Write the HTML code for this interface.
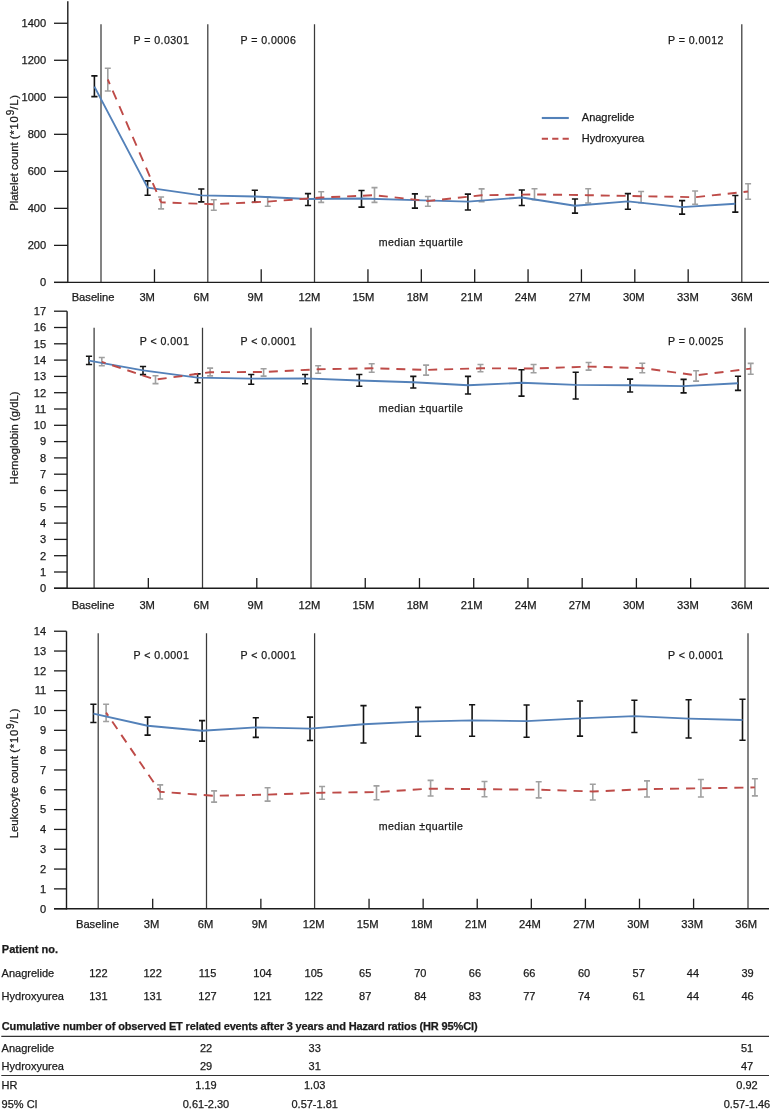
<!DOCTYPE html><html><head><meta charset="utf-8"><style>
html,body{margin:0;padding:0;background:#fff;width:771px;height:1109px;overflow:hidden}
svg{display:block;font-family:"Liberation Sans",sans-serif;will-change:transform}
text{stroke:#1a1a1a;stroke-width:0.25px}
.t{font-size:11px;fill:#1a1a1a}
.yl{font-size:11.1px;fill:#1a1a1a}
.xl{font-size:11.2px;fill:#1a1a1a}
.pv{font-size:10.6px;fill:#1a1a1a;letter-spacing:0.45px}
.md{font-size:10.6px;fill:#1a1a1a;letter-spacing:0.4px}
.ti{font-size:11.3px;fill:#1a1a1a}
.b{font-weight:bold}
</style></head><body>
<svg width="771" height="1109" viewBox="0 0 771 1109">
<line x1="101" y1="24.2" x2="101" y2="282.4" stroke="#3a3a3a" stroke-width="1.25"/>
<line x1="207.8" y1="24.2" x2="207.8" y2="282.4" stroke="#3a3a3a" stroke-width="1.25"/>
<line x1="314.5" y1="24.2" x2="314.5" y2="282.4" stroke="#3a3a3a" stroke-width="1.25"/>
<line x1="741.8" y1="24.2" x2="741.8" y2="282.4" stroke="#3a3a3a" stroke-width="1.25"/>
<line x1="154.47" y1="269.3" x2="154.47" y2="282.4" stroke="#1c1c1c" stroke-width="1.3"/>
<line x1="261.21" y1="269.3" x2="261.21" y2="282.4" stroke="#1c1c1c" stroke-width="1.3"/>
<line x1="367.95" y1="269.3" x2="367.95" y2="282.4" stroke="#1c1c1c" stroke-width="1.3"/>
<line x1="421.32" y1="269.3" x2="421.32" y2="282.4" stroke="#1c1c1c" stroke-width="1.3"/>
<line x1="474.69" y1="269.3" x2="474.69" y2="282.4" stroke="#1c1c1c" stroke-width="1.3"/>
<line x1="528.06" y1="269.3" x2="528.06" y2="282.4" stroke="#1c1c1c" stroke-width="1.3"/>
<line x1="581.43" y1="269.3" x2="581.43" y2="282.4" stroke="#1c1c1c" stroke-width="1.3"/>
<line x1="634.8" y1="269.3" x2="634.8" y2="282.4" stroke="#1c1c1c" stroke-width="1.3"/>
<line x1="688.17" y1="269.3" x2="688.17" y2="282.4" stroke="#1c1c1c" stroke-width="1.3"/>
<line x1="67.8" y1="1.3" x2="67.8" y2="283.1" stroke="#1c1c1c" stroke-width="1.4"/>
<line x1="54" y1="282.4" x2="769" y2="282.4" stroke="#1c1c1c" stroke-width="1.4"/>
<line x1="54" y1="282.4" x2="67.8" y2="282.4" stroke="#1c1c1c" stroke-width="1.3"/>
<text class="yl" x="46.2" y="286.2" text-anchor="end">0</text>
<line x1="54" y1="245.38" x2="67.8" y2="245.38" stroke="#1c1c1c" stroke-width="1.3"/>
<text class="yl" x="46.2" y="249.18" text-anchor="end">200</text>
<line x1="54" y1="208.36" x2="67.8" y2="208.36" stroke="#1c1c1c" stroke-width="1.3"/>
<text class="yl" x="46.2" y="212.16" text-anchor="end">400</text>
<line x1="54" y1="171.34" x2="67.8" y2="171.34" stroke="#1c1c1c" stroke-width="1.3"/>
<text class="yl" x="46.2" y="175.14" text-anchor="end">600</text>
<line x1="54" y1="134.32" x2="67.8" y2="134.32" stroke="#1c1c1c" stroke-width="1.3"/>
<text class="yl" x="46.2" y="138.12" text-anchor="end">800</text>
<line x1="54" y1="97.3" x2="67.8" y2="97.3" stroke="#1c1c1c" stroke-width="1.3"/>
<text class="yl" x="46.2" y="101.1" text-anchor="end">1000</text>
<line x1="54" y1="60.28" x2="67.8" y2="60.28" stroke="#1c1c1c" stroke-width="1.3"/>
<text class="yl" x="46.2" y="64.08" text-anchor="end">1200</text>
<line x1="54" y1="23.26" x2="67.8" y2="23.26" stroke="#1c1c1c" stroke-width="1.3"/>
<text class="yl" x="46.2" y="27.06" text-anchor="end">1400</text>
<text class="xl" x="93.1" y="301.3" text-anchor="middle">Baseline</text>
<text class="xl" x="147.17" y="301.3" text-anchor="middle">3M</text>
<text class="xl" x="201.24" y="301.3" text-anchor="middle">6M</text>
<text class="xl" x="255.31" y="301.3" text-anchor="middle">9M</text>
<text class="xl" x="309.38" y="301.3" text-anchor="middle">12M</text>
<text class="xl" x="363.45" y="301.3" text-anchor="middle">15M</text>
<text class="xl" x="417.52" y="301.3" text-anchor="middle">18M</text>
<text class="xl" x="471.59" y="301.3" text-anchor="middle">21M</text>
<text class="xl" x="525.66" y="301.3" text-anchor="middle">24M</text>
<text class="xl" x="579.73" y="301.3" text-anchor="middle">27M</text>
<text class="xl" x="633.8" y="301.3" text-anchor="middle">30M</text>
<text class="xl" x="687.87" y="301.3" text-anchor="middle">33M</text>
<text class="xl" x="741.94" y="301.3" text-anchor="middle">36M</text>
<text class="pv" x="189.3" y="43.7" text-anchor="end">P = 0.0301</text>
<text class="pv" x="296.3" y="43.7" text-anchor="end">P = 0.0006</text>
<text class="pv" x="668" y="43.7" text-anchor="start">P = 0.0012</text>
<text class="md" x="378.7" y="245.5">median ±quartile</text>
<text class="ti" transform="translate(17.6 152.5) rotate(-90)" text-anchor="middle">Platelet count <tspan style="letter-spacing:0.8px">(*10</tspan><tspan font-size="10" dy="-3.6">9</tspan><tspan dy="3.6" style="letter-spacing:0.8px">/L)</tspan></text>
<path d="M94.4 75.9V96.6M91.3 75.9h6.2M91.3 96.6h6.2" stroke="#141414" stroke-width="1.6" fill="none"/>
<path d="M147.6 180.9V195.2M144.5 180.9h6.2M144.5 195.2h6.2" stroke="#141414" stroke-width="1.6" fill="none"/>
<path d="M201.3 189V201.9M198.2 189h6.2M198.2 201.9h6.2" stroke="#141414" stroke-width="1.6" fill="none"/>
<path d="M254.8 190.2V202.2M251.7 190.2h6.2M251.7 202.2h6.2" stroke="#141414" stroke-width="1.6" fill="none"/>
<path d="M308 193.6V205.5M304.9 193.6h6.2M304.9 205.5h6.2" stroke="#141414" stroke-width="1.6" fill="none"/>
<path d="M361.5 190.5V207.1M358.4 190.5h6.2M358.4 207.1h6.2" stroke="#141414" stroke-width="1.6" fill="none"/>
<path d="M414.9 193.9V208.1M411.8 193.9h6.2M411.8 208.1h6.2" stroke="#141414" stroke-width="1.6" fill="none"/>
<path d="M467.9 194.1V210M464.8 194.1h6.2M464.8 210h6.2" stroke="#141414" stroke-width="1.6" fill="none"/>
<path d="M521.8 190V205.5M518.7 190h6.2M518.7 205.5h6.2" stroke="#141414" stroke-width="1.6" fill="none"/>
<path d="M575 199V213.1M571.9 199h6.2M571.9 213.1h6.2" stroke="#141414" stroke-width="1.6" fill="none"/>
<path d="M627.9 193.6V209.2M624.8 193.6h6.2M624.8 209.2h6.2" stroke="#141414" stroke-width="1.6" fill="none"/>
<path d="M682.1 200.6V214.1M679 200.6h6.2M679 214.1h6.2" stroke="#141414" stroke-width="1.6" fill="none"/>
<path d="M735.3 195.5V212.1M732.2 195.5h6.2M732.2 212.1h6.2" stroke="#141414" stroke-width="1.6" fill="none"/>
<path d="M107.8 68.2V91M104.8 68.2h6M104.8 91h6" stroke="#a0a0a0" stroke-width="1.6" fill="none"/>
<path d="M161.1 197V208.9M158.1 197h6M158.1 208.9h6" stroke="#a0a0a0" stroke-width="1.6" fill="none"/>
<path d="M213.8 199.8V210.2M210.8 199.8h6M210.8 210.2h6" stroke="#a0a0a0" stroke-width="1.6" fill="none"/>
<path d="M267.7 196.7V206.3M264.7 196.7h6M264.7 206.3h6" stroke="#a0a0a0" stroke-width="1.6" fill="none"/>
<path d="M321.2 191.8V202.4M318.2 191.8h6M318.2 202.4h6" stroke="#a0a0a0" stroke-width="1.6" fill="none"/>
<path d="M374.5 187.6V202.4M371.5 187.6h6M371.5 202.4h6" stroke="#a0a0a0" stroke-width="1.6" fill="none"/>
<path d="M427.9 196.5V206.3M424.9 196.5h6M424.9 206.3h6" stroke="#a0a0a0" stroke-width="1.6" fill="none"/>
<path d="M481.6 188.9V201.6M478.6 188.9h6M478.6 201.6h6" stroke="#a0a0a0" stroke-width="1.6" fill="none"/>
<path d="M534.5 188.7V199.8M531.5 188.7h6M531.5 199.8h6" stroke="#a0a0a0" stroke-width="1.6" fill="none"/>
<path d="M588.2 188.7V203M585.2 188.7h6M585.2 203h6" stroke="#a0a0a0" stroke-width="1.6" fill="none"/>
<path d="M641.1 191.5V202.7M638.1 191.5h6M638.1 202.7h6" stroke="#a0a0a0" stroke-width="1.6" fill="none"/>
<path d="M695.1 191V204.2M692.1 191h6M692.1 204.2h6" stroke="#a0a0a0" stroke-width="1.6" fill="none"/>
<path d="M748.1 183.7V199.2M745.1 183.7h6M745.1 199.2h6" stroke="#a0a0a0" stroke-width="1.6" fill="none"/>
<polyline points="94.4,86.6 147.6,187.6 201.3,195.4 254.8,196.5 308,199 361.5,198.5 414.9,200.1 467.9,201.6 521.8,197.5 575,205.8 627.9,201.4 682.1,207.1 735.3,203.7" fill="none" stroke="#5381b9" stroke-width="1.9" stroke-linejoin="round"/>
<polyline points="107.8,79.5 161.1,202.4" fill="none" stroke="#be4b48" stroke-width="1.9" stroke-dasharray="9.6 7.2" stroke-dashoffset="4.64"/>
<polyline points="161.1,202.4 213.8,204.2 267.7,201.6 321.2,197.5 374.5,195.2 427.9,201.1 481.6,195.2 534.5,194.4 588.2,195.2 641.1,196.2 695.1,197.2 748.1,191.5" fill="none" stroke="#be4b48" stroke-width="1.9" stroke-dasharray="9 6.894" stroke-dashoffset="4.43"/>
<line x1="94.1" y1="327.7" x2="94.1" y2="588.3" stroke="#3a3a3a" stroke-width="1.25"/>
<line x1="202.5" y1="327.7" x2="202.5" y2="588.3" stroke="#3a3a3a" stroke-width="1.25"/>
<line x1="311" y1="327.7" x2="311" y2="588.3" stroke="#3a3a3a" stroke-width="1.25"/>
<line x1="745" y1="327.7" x2="745" y2="588.3" stroke="#3a3a3a" stroke-width="1.25"/>
<line x1="148.33" y1="578.1" x2="148.33" y2="588.3" stroke="#1c1c1c" stroke-width="1.3"/>
<line x1="256.79" y1="578.1" x2="256.79" y2="588.3" stroke="#1c1c1c" stroke-width="1.3"/>
<line x1="365.25" y1="578.1" x2="365.25" y2="588.3" stroke="#1c1c1c" stroke-width="1.3"/>
<line x1="419.48" y1="578.1" x2="419.48" y2="588.3" stroke="#1c1c1c" stroke-width="1.3"/>
<line x1="473.71" y1="578.1" x2="473.71" y2="588.3" stroke="#1c1c1c" stroke-width="1.3"/>
<line x1="527.94" y1="578.1" x2="527.94" y2="588.3" stroke="#1c1c1c" stroke-width="1.3"/>
<line x1="582.17" y1="578.1" x2="582.17" y2="588.3" stroke="#1c1c1c" stroke-width="1.3"/>
<line x1="636.4" y1="578.1" x2="636.4" y2="588.3" stroke="#1c1c1c" stroke-width="1.3"/>
<line x1="690.63" y1="578.1" x2="690.63" y2="588.3" stroke="#1c1c1c" stroke-width="1.3"/>
<line x1="67.1" y1="311.2" x2="67.1" y2="589" stroke="#1c1c1c" stroke-width="1.4"/>
<line x1="54" y1="588.3" x2="769" y2="588.3" stroke="#1c1c1c" stroke-width="1.4"/>
<line x1="54" y1="588.3" x2="67.1" y2="588.3" stroke="#1c1c1c" stroke-width="1.3"/>
<text class="yl" x="46.2" y="592.1" text-anchor="end">0</text>
<line x1="54" y1="572" x2="67.1" y2="572" stroke="#1c1c1c" stroke-width="1.3"/>
<text class="yl" x="46.2" y="575.8" text-anchor="end">1</text>
<line x1="54" y1="555.7" x2="67.1" y2="555.7" stroke="#1c1c1c" stroke-width="1.3"/>
<text class="yl" x="46.2" y="559.5" text-anchor="end">2</text>
<line x1="54" y1="539.4" x2="67.1" y2="539.4" stroke="#1c1c1c" stroke-width="1.3"/>
<text class="yl" x="46.2" y="543.2" text-anchor="end">3</text>
<line x1="54" y1="523.1" x2="67.1" y2="523.1" stroke="#1c1c1c" stroke-width="1.3"/>
<text class="yl" x="46.2" y="526.9" text-anchor="end">4</text>
<line x1="54" y1="506.8" x2="67.1" y2="506.8" stroke="#1c1c1c" stroke-width="1.3"/>
<text class="yl" x="46.2" y="510.6" text-anchor="end">5</text>
<line x1="54" y1="490.5" x2="67.1" y2="490.5" stroke="#1c1c1c" stroke-width="1.3"/>
<text class="yl" x="46.2" y="494.3" text-anchor="end">6</text>
<line x1="54" y1="474.2" x2="67.1" y2="474.2" stroke="#1c1c1c" stroke-width="1.3"/>
<text class="yl" x="46.2" y="478" text-anchor="end">7</text>
<line x1="54" y1="457.9" x2="67.1" y2="457.9" stroke="#1c1c1c" stroke-width="1.3"/>
<text class="yl" x="46.2" y="461.7" text-anchor="end">8</text>
<line x1="54" y1="441.6" x2="67.1" y2="441.6" stroke="#1c1c1c" stroke-width="1.3"/>
<text class="yl" x="46.2" y="445.4" text-anchor="end">9</text>
<line x1="54" y1="425.3" x2="67.1" y2="425.3" stroke="#1c1c1c" stroke-width="1.3"/>
<text class="yl" x="46.2" y="429.1" text-anchor="end">10</text>
<line x1="54" y1="409" x2="67.1" y2="409" stroke="#1c1c1c" stroke-width="1.3"/>
<text class="yl" x="46.2" y="412.8" text-anchor="end">11</text>
<line x1="54" y1="392.7" x2="67.1" y2="392.7" stroke="#1c1c1c" stroke-width="1.3"/>
<text class="yl" x="46.2" y="396.5" text-anchor="end">12</text>
<line x1="54" y1="376.4" x2="67.1" y2="376.4" stroke="#1c1c1c" stroke-width="1.3"/>
<text class="yl" x="46.2" y="380.2" text-anchor="end">13</text>
<line x1="54" y1="360.1" x2="67.1" y2="360.1" stroke="#1c1c1c" stroke-width="1.3"/>
<text class="yl" x="46.2" y="363.9" text-anchor="end">14</text>
<line x1="54" y1="343.8" x2="67.1" y2="343.8" stroke="#1c1c1c" stroke-width="1.3"/>
<text class="yl" x="46.2" y="347.6" text-anchor="end">15</text>
<line x1="54" y1="327.5" x2="67.1" y2="327.5" stroke="#1c1c1c" stroke-width="1.3"/>
<text class="yl" x="46.2" y="331.3" text-anchor="end">16</text>
<line x1="54" y1="311.2" x2="67.1" y2="311.2" stroke="#1c1c1c" stroke-width="1.3"/>
<text class="yl" x="46.2" y="315" text-anchor="end">17</text>
<text class="xl" x="93.1" y="608.6" text-anchor="middle">Baseline</text>
<text class="xl" x="147.17" y="608.6" text-anchor="middle">3M</text>
<text class="xl" x="201.24" y="608.6" text-anchor="middle">6M</text>
<text class="xl" x="255.31" y="608.6" text-anchor="middle">9M</text>
<text class="xl" x="309.38" y="608.6" text-anchor="middle">12M</text>
<text class="xl" x="363.45" y="608.6" text-anchor="middle">15M</text>
<text class="xl" x="417.52" y="608.6" text-anchor="middle">18M</text>
<text class="xl" x="471.59" y="608.6" text-anchor="middle">21M</text>
<text class="xl" x="525.66" y="608.6" text-anchor="middle">24M</text>
<text class="xl" x="579.73" y="608.6" text-anchor="middle">27M</text>
<text class="xl" x="633.8" y="608.6" text-anchor="middle">30M</text>
<text class="xl" x="687.87" y="608.6" text-anchor="middle">33M</text>
<text class="xl" x="741.94" y="608.6" text-anchor="middle">36M</text>
<text class="pv" x="189.3" y="345" text-anchor="end">P &lt; 0.001</text>
<text class="pv" x="296.3" y="345" text-anchor="end">P &lt; 0.0001</text>
<text class="pv" x="668" y="344.5" text-anchor="start">P = 0.0025</text>
<text class="md" x="378.7" y="412.1">median ±quartile</text>
<text class="ti" transform="translate(17.6 438) rotate(-90)" text-anchor="middle">Hemoglobin (g/dL)</text>
<path d="M89 356.2V364.5M85.9 356.2h6.2M85.9 364.5h6.2" stroke="#141414" stroke-width="1.6" fill="none"/>
<path d="M143 366.5V374.6M139.9 366.5h6.2M139.9 374.6h6.2" stroke="#141414" stroke-width="1.6" fill="none"/>
<path d="M197.6 373.9V382.8M194.5 373.9h6.2M194.5 382.8h6.2" stroke="#141414" stroke-width="1.6" fill="none"/>
<path d="M251.2 374.5V384.2M248.1 374.5h6.2M248.1 384.2h6.2" stroke="#141414" stroke-width="1.6" fill="none"/>
<path d="M305.1 374.5V383.8M302 374.5h6.2M302 383.8h6.2" stroke="#141414" stroke-width="1.6" fill="none"/>
<path d="M359.3 374.5V386.3M356.2 374.5h6.2M356.2 386.3h6.2" stroke="#141414" stroke-width="1.6" fill="none"/>
<path d="M413.3 376.4V388M410.2 376.4h6.2M410.2 388h6.2" stroke="#141414" stroke-width="1.6" fill="none"/>
<path d="M468 376.4V394M464.9 376.4h6.2M464.9 394h6.2" stroke="#141414" stroke-width="1.6" fill="none"/>
<path d="M521.5 369.7V396.1M518.4 369.7h6.2M518.4 396.1h6.2" stroke="#141414" stroke-width="1.6" fill="none"/>
<path d="M575.7 372.2V399M572.6 372.2h6.2M572.6 399h6.2" stroke="#141414" stroke-width="1.6" fill="none"/>
<path d="M630.1 379.1V392M627 379.1h6.2M627 392h6.2" stroke="#141414" stroke-width="1.6" fill="none"/>
<path d="M683.6 379.4V392.9M680.5 379.4h6.2M680.5 392.9h6.2" stroke="#141414" stroke-width="1.6" fill="none"/>
<path d="M738 376.3V390.4M734.9 376.3h6.2M734.9 390.4h6.2" stroke="#141414" stroke-width="1.6" fill="none"/>
<path d="M101.8 357.5V365.7M98.8 357.5h6M98.8 365.7h6" stroke="#a0a0a0" stroke-width="1.6" fill="none"/>
<path d="M155.5 375.7V383.6M152.5 375.7h6M152.5 383.6h6" stroke="#a0a0a0" stroke-width="1.6" fill="none"/>
<path d="M210.1 368.1V375.9M207.1 368.1h6M207.1 375.9h6" stroke="#a0a0a0" stroke-width="1.6" fill="none"/>
<path d="M263.6 368.7V376.1M260.6 368.7h6M260.6 376.1h6" stroke="#a0a0a0" stroke-width="1.6" fill="none"/>
<path d="M318.2 365.8V373.2M315.2 365.8h6M315.2 373.2h6" stroke="#a0a0a0" stroke-width="1.6" fill="none"/>
<path d="M371.7 363.7V372.2M368.7 363.7h6M368.7 372.2h6" stroke="#a0a0a0" stroke-width="1.6" fill="none"/>
<path d="M426.1 365.1V375.1M423.1 365.1h6M423.1 375.1h6" stroke="#a0a0a0" stroke-width="1.6" fill="none"/>
<path d="M480.5 364.5V371.8M477.5 364.5h6M477.5 371.8h6" stroke="#a0a0a0" stroke-width="1.6" fill="none"/>
<path d="M533.6 364.5V372.8M530.6 364.5h6M530.6 372.8h6" stroke="#a0a0a0" stroke-width="1.6" fill="none"/>
<path d="M588.6 362.5V370.1M585.6 362.5h6M585.6 370.1h6" stroke="#a0a0a0" stroke-width="1.6" fill="none"/>
<path d="M642.3 363.3V372.8M639.3 363.3h6M639.3 372.8h6" stroke="#a0a0a0" stroke-width="1.6" fill="none"/>
<path d="M696.1 370.7V381.1M693.1 370.7h6M693.1 381.1h6" stroke="#a0a0a0" stroke-width="1.6" fill="none"/>
<path d="M750.7 363.4V374.2M747.7 363.4h6M747.7 374.2h6" stroke="#a0a0a0" stroke-width="1.6" fill="none"/>
<polyline points="89,360.6 143,370.4 197.6,377.6 251.2,378.6 305.1,378.4 359.3,380.5 413.3,382.2 468,385.3 521.5,382.8 575.7,384.9 630.1,385.2 683.6,386.1 738,383.2" fill="none" stroke="#5381b9" stroke-width="1.9" stroke-linejoin="round"/>
<polyline points="101.8,361.8 155.5,379.6 210.1,372.2 263.6,372 318.2,369.3 371.7,368.3 426.1,369.9 480.5,368.3 533.6,368.5 588.6,366.6 642.3,368.1 696.1,375.3 750.7,368.6" fill="none" stroke="#be4b48" stroke-width="1.9" stroke-dasharray="9 6.947" stroke-dashoffset="5.0"/>
<line x1="98.2" y1="633.2" x2="98.2" y2="908.7" stroke="#3a3a3a" stroke-width="1.25"/>
<line x1="206.5" y1="633.2" x2="206.5" y2="908.7" stroke="#3a3a3a" stroke-width="1.25"/>
<line x1="314.6" y1="633.2" x2="314.6" y2="908.7" stroke="#3a3a3a" stroke-width="1.25"/>
<line x1="748" y1="633.2" x2="748" y2="908.7" stroke="#3a3a3a" stroke-width="1.25"/>
<line x1="152.69" y1="898.7" x2="152.69" y2="908.7" stroke="#1c1c1c" stroke-width="1.3"/>
<line x1="260.87" y1="898.7" x2="260.87" y2="908.7" stroke="#1c1c1c" stroke-width="1.3"/>
<line x1="369.05" y1="898.7" x2="369.05" y2="908.7" stroke="#1c1c1c" stroke-width="1.3"/>
<line x1="423.14" y1="898.7" x2="423.14" y2="908.7" stroke="#1c1c1c" stroke-width="1.3"/>
<line x1="477.23" y1="898.7" x2="477.23" y2="908.7" stroke="#1c1c1c" stroke-width="1.3"/>
<line x1="531.32" y1="898.7" x2="531.32" y2="908.7" stroke="#1c1c1c" stroke-width="1.3"/>
<line x1="585.41" y1="898.7" x2="585.41" y2="908.7" stroke="#1c1c1c" stroke-width="1.3"/>
<line x1="639.5" y1="898.7" x2="639.5" y2="908.7" stroke="#1c1c1c" stroke-width="1.3"/>
<line x1="693.59" y1="898.7" x2="693.59" y2="908.7" stroke="#1c1c1c" stroke-width="1.3"/>
<line x1="66.5" y1="631.2" x2="66.5" y2="909.4" stroke="#1c1c1c" stroke-width="1.4"/>
<line x1="54" y1="908.7" x2="769" y2="908.7" stroke="#1c1c1c" stroke-width="1.4"/>
<line x1="54" y1="908.7" x2="66.5" y2="908.7" stroke="#1c1c1c" stroke-width="1.3"/>
<text class="yl" x="46.2" y="912.5" text-anchor="end">0</text>
<line x1="54" y1="888.88" x2="66.5" y2="888.88" stroke="#1c1c1c" stroke-width="1.3"/>
<text class="yl" x="46.2" y="892.68" text-anchor="end">1</text>
<line x1="54" y1="869.06" x2="66.5" y2="869.06" stroke="#1c1c1c" stroke-width="1.3"/>
<text class="yl" x="46.2" y="872.86" text-anchor="end">2</text>
<line x1="54" y1="849.24" x2="66.5" y2="849.24" stroke="#1c1c1c" stroke-width="1.3"/>
<text class="yl" x="46.2" y="853.04" text-anchor="end">3</text>
<line x1="54" y1="829.42" x2="66.5" y2="829.42" stroke="#1c1c1c" stroke-width="1.3"/>
<text class="yl" x="46.2" y="833.22" text-anchor="end">4</text>
<line x1="54" y1="809.6" x2="66.5" y2="809.6" stroke="#1c1c1c" stroke-width="1.3"/>
<text class="yl" x="46.2" y="813.4" text-anchor="end">5</text>
<line x1="54" y1="789.78" x2="66.5" y2="789.78" stroke="#1c1c1c" stroke-width="1.3"/>
<text class="yl" x="46.2" y="793.58" text-anchor="end">6</text>
<line x1="54" y1="769.96" x2="66.5" y2="769.96" stroke="#1c1c1c" stroke-width="1.3"/>
<text class="yl" x="46.2" y="773.76" text-anchor="end">7</text>
<line x1="54" y1="750.14" x2="66.5" y2="750.14" stroke="#1c1c1c" stroke-width="1.3"/>
<text class="yl" x="46.2" y="753.94" text-anchor="end">8</text>
<line x1="54" y1="730.32" x2="66.5" y2="730.32" stroke="#1c1c1c" stroke-width="1.3"/>
<text class="yl" x="46.2" y="734.12" text-anchor="end">9</text>
<line x1="54" y1="710.5" x2="66.5" y2="710.5" stroke="#1c1c1c" stroke-width="1.3"/>
<text class="yl" x="46.2" y="714.3" text-anchor="end">10</text>
<line x1="54" y1="690.68" x2="66.5" y2="690.68" stroke="#1c1c1c" stroke-width="1.3"/>
<text class="yl" x="46.2" y="694.48" text-anchor="end">11</text>
<line x1="54" y1="670.86" x2="66.5" y2="670.86" stroke="#1c1c1c" stroke-width="1.3"/>
<text class="yl" x="46.2" y="674.66" text-anchor="end">12</text>
<line x1="54" y1="651.04" x2="66.5" y2="651.04" stroke="#1c1c1c" stroke-width="1.3"/>
<text class="yl" x="46.2" y="654.84" text-anchor="end">13</text>
<line x1="54" y1="631.22" x2="66.5" y2="631.22" stroke="#1c1c1c" stroke-width="1.3"/>
<text class="yl" x="46.2" y="635.02" text-anchor="end">14</text>
<text class="xl" x="97.4" y="927.6" text-anchor="middle">Baseline</text>
<text class="xl" x="151.47" y="927.6" text-anchor="middle">3M</text>
<text class="xl" x="205.54" y="927.6" text-anchor="middle">6M</text>
<text class="xl" x="259.61" y="927.6" text-anchor="middle">9M</text>
<text class="xl" x="313.68" y="927.6" text-anchor="middle">12M</text>
<text class="xl" x="367.75" y="927.6" text-anchor="middle">15M</text>
<text class="xl" x="421.82" y="927.6" text-anchor="middle">18M</text>
<text class="xl" x="475.89" y="927.6" text-anchor="middle">21M</text>
<text class="xl" x="529.96" y="927.6" text-anchor="middle">24M</text>
<text class="xl" x="584.03" y="927.6" text-anchor="middle">27M</text>
<text class="xl" x="638.1" y="927.6" text-anchor="middle">30M</text>
<text class="xl" x="692.17" y="927.6" text-anchor="middle">33M</text>
<text class="xl" x="746.24" y="927.6" text-anchor="middle">36M</text>
<text class="pv" x="189.3" y="659.4" text-anchor="end">P &lt; 0.0001</text>
<text class="pv" x="296.3" y="659.4" text-anchor="end">P &lt; 0.0001</text>
<text class="pv" x="668" y="658.7" text-anchor="start">P &lt; 0.0001</text>
<text class="md" x="378.7" y="829.8">median ±quartile</text>
<text class="ti" transform="translate(18 773) rotate(-90)" text-anchor="middle">Leukocyte count <tspan style="letter-spacing:0.8px">(*10</tspan><tspan font-size="10" dy="-3.6">9</tspan><tspan dy="3.6" style="letter-spacing:0.8px">/L)</tspan></text>
<path d="M93.4 704.3V722.5M90.3 704.3h6.2M90.3 722.5h6.2" stroke="#141414" stroke-width="1.6" fill="none"/>
<path d="M147.6 717.1V735.1M144.5 717.1h6.2M144.5 735.1h6.2" stroke="#141414" stroke-width="1.6" fill="none"/>
<path d="M202.1 720.6V741.1M199 720.6h6.2M199 741.1h6.2" stroke="#141414" stroke-width="1.6" fill="none"/>
<path d="M255.8 717.7V737.4M252.7 717.7h6.2M252.7 737.4h6.2" stroke="#141414" stroke-width="1.6" fill="none"/>
<path d="M310 717.1V740.5M306.9 717.1h6.2M306.9 740.5h6.2" stroke="#141414" stroke-width="1.6" fill="none"/>
<path d="M363.5 705.6V743M360.4 705.6h6.2M360.4 743h6.2" stroke="#141414" stroke-width="1.6" fill="none"/>
<path d="M418.1 707.4V736.2M415 707.4h6.2M415 736.2h6.2" stroke="#141414" stroke-width="1.6" fill="none"/>
<path d="M472.1 704.8V736.2M469 704.8h6.2M469 736.2h6.2" stroke="#141414" stroke-width="1.6" fill="none"/>
<path d="M526.6 705V737.2M523.5 705h6.2M523.5 737.2h6.2" stroke="#141414" stroke-width="1.6" fill="none"/>
<path d="M580 701V736.1M576.9 701h6.2M576.9 736.1h6.2" stroke="#141414" stroke-width="1.6" fill="none"/>
<path d="M634.4 700.3V732.5M631.3 700.3h6.2M631.3 732.5h6.2" stroke="#141414" stroke-width="1.6" fill="none"/>
<path d="M688.6 699.7V738M685.5 699.7h6.2M685.5 738h6.2" stroke="#141414" stroke-width="1.6" fill="none"/>
<path d="M742.5 699.2V740.2M739.4 699.2h6.2M739.4 740.2h6.2" stroke="#141414" stroke-width="1.6" fill="none"/>
<path d="M106.1 704.3V721.5M103.1 704.3h6M103.1 721.5h6" stroke="#a0a0a0" stroke-width="1.6" fill="none"/>
<path d="M160.2 784.9V799M157.2 784.9h6M157.2 799h6" stroke="#a0a0a0" stroke-width="1.6" fill="none"/>
<path d="M214.1 790.9V802.1M211.1 790.9h6M211.1 802.1h6" stroke="#a0a0a0" stroke-width="1.6" fill="none"/>
<path d="M267.6 787.7V801.1M264.6 787.7h6M264.6 801.1h6" stroke="#a0a0a0" stroke-width="1.6" fill="none"/>
<path d="M322.1 786.5V799.3M319.1 786.5h6M319.1 799.3h6" stroke="#a0a0a0" stroke-width="1.6" fill="none"/>
<path d="M376.5 785.9V799.7M373.5 785.9h6M373.5 799.7h6" stroke="#a0a0a0" stroke-width="1.6" fill="none"/>
<path d="M430.6 780.4V796M427.6 780.4h6M427.6 796h6" stroke="#a0a0a0" stroke-width="1.6" fill="none"/>
<path d="M484.5 781.5V796.8M481.5 781.5h6M481.5 796.8h6" stroke="#a0a0a0" stroke-width="1.6" fill="none"/>
<path d="M538.7 781.8V797.9M535.7 781.8h6M535.7 797.9h6" stroke="#a0a0a0" stroke-width="1.6" fill="none"/>
<path d="M592.8 784.2V800M589.8 784.2h6M589.8 800h6" stroke="#a0a0a0" stroke-width="1.6" fill="none"/>
<path d="M647 780.9V797M644 780.9h6M644 797h6" stroke="#a0a0a0" stroke-width="1.6" fill="none"/>
<path d="M700.9 779.5V797M697.9 779.5h6M697.9 797h6" stroke="#a0a0a0" stroke-width="1.6" fill="none"/>
<path d="M754.9 778.7V795.9M751.9 778.7h6M751.9 795.9h6" stroke="#a0a0a0" stroke-width="1.6" fill="none"/>
<polyline points="93.4,713.6 147.6,725.7 202.1,730.8 255.8,727.4 310,728.6 363.5,724.3 418.1,721.6 472.1,720.4 526.6,721.1 580,718.4 634.4,716.1 688.6,718.6 742.5,720" fill="none" stroke="#5381b9" stroke-width="1.9" stroke-linejoin="round"/>
<polyline points="106.1,712.6 160.2,791.8 214.1,795.8 267.6,794.6 322.1,792.7 376.5,792.1 430.6,788.6 484.5,789.2 538.7,789.7 592.8,791.5 647,789.1 700.9,788.3 754.9,787.4" fill="none" stroke="#be4b48" stroke-width="1.9" stroke-dasharray="9.1 6.988" stroke-dashoffset="5.24"/>
<line x1="541.8" y1="118" x2="568.8" y2="118" stroke="#5381b9" stroke-width="2.1"/>
<line x1="541.8" y1="138.8" x2="568.8" y2="138.8" stroke="#be4b48" stroke-width="2.1" stroke-dasharray="6.2 4.2"/>
<text class="t" x="581.8" y="120.8">Anagrelide</text>
<text class="t" x="581.8" y="141.5">Hydroxyurea</text>
<text class="t b" x="1.8" y="953.2">Patient no.</text>
<text class="t" x="1.6" y="976.5">Anagrelide</text>
<text class="t" x="1.6" y="999.5">Hydroxyurea</text>
<text class="t" x="98.4" y="976.5" text-anchor="middle">122</text>
<text class="t" x="98.4" y="999.5" text-anchor="middle">131</text>
<text class="t" x="152.6" y="976.5" text-anchor="middle">122</text>
<text class="t" x="152.6" y="999.5" text-anchor="middle">131</text>
<text class="t" x="207.5" y="976.5" text-anchor="middle">115</text>
<text class="t" x="207.5" y="999.5" text-anchor="middle">127</text>
<text class="t" x="262.5" y="976.5" text-anchor="middle">104</text>
<text class="t" x="262.5" y="999.5" text-anchor="middle">121</text>
<text class="t" x="313.8" y="976.5" text-anchor="middle">105</text>
<text class="t" x="313.8" y="999.5" text-anchor="middle">122</text>
<text class="t" x="365.2" y="976.5" text-anchor="middle">65</text>
<text class="t" x="365.2" y="999.5" text-anchor="middle">87</text>
<text class="t" x="420.3" y="976.5" text-anchor="middle">70</text>
<text class="t" x="420.3" y="999.5" text-anchor="middle">84</text>
<text class="t" x="474.9" y="976.5" text-anchor="middle">66</text>
<text class="t" x="474.9" y="999.5" text-anchor="middle">83</text>
<text class="t" x="529.3" y="976.5" text-anchor="middle">66</text>
<text class="t" x="529.3" y="999.5" text-anchor="middle">77</text>
<text class="t" x="584" y="976.5" text-anchor="middle">60</text>
<text class="t" x="584" y="999.5" text-anchor="middle">74</text>
<text class="t" x="638.7" y="976.5" text-anchor="middle">57</text>
<text class="t" x="638.7" y="999.5" text-anchor="middle">61</text>
<text class="t" x="692.9" y="976.5" text-anchor="middle">44</text>
<text class="t" x="692.9" y="999.5" text-anchor="middle">44</text>
<text class="t" x="747.6" y="976.5" text-anchor="middle">39</text>
<text class="t" x="747.6" y="999.5" text-anchor="middle">46</text>
<text class="t b" x="1.8" y="1029.5" style="letter-spacing:-0.135px">Cumulative number of observed ET related events after 3 years and Hazard ratios (HR 95%CI)</text>
<line x1="1.3" y1="1036.3" x2="769" y2="1036.3" stroke="#333" stroke-width="1.2"/>
<line x1="1.3" y1="1075.5" x2="769" y2="1075.5" stroke="#333" stroke-width="1.2"/>
<text class="t" x="1.6" y="1052.2">Anagrelide</text>
<text class="t" x="206" y="1052.2" text-anchor="middle">22</text>
<text class="t" x="314.7" y="1052.2" text-anchor="middle">33</text>
<text class="t" x="747" y="1052.2" text-anchor="middle">51</text>
<text class="t" x="1.6" y="1070.4">Hydroxyurea</text>
<text class="t" x="206" y="1070.4" text-anchor="middle">29</text>
<text class="t" x="314.7" y="1070.4" text-anchor="middle">31</text>
<text class="t" x="747" y="1070.4" text-anchor="middle">47</text>
<text class="t" x="1.6" y="1089">HR</text>
<text class="t" x="206" y="1089" text-anchor="middle">1.19</text>
<text class="t" x="314.7" y="1089" text-anchor="middle">1.03</text>
<text class="t" x="747" y="1089" text-anchor="middle">0.92</text>
<text class="t" x="1.6" y="1107.6">95% CI</text>
<text class="t" x="206" y="1107.6" text-anchor="middle">0.61-2.30</text>
<text class="t" x="314.7" y="1107.6" text-anchor="middle">0.57-1.81</text>
<text class="t" x="747" y="1107.6" text-anchor="middle">0.57-1.46</text>
</svg></body></html>
